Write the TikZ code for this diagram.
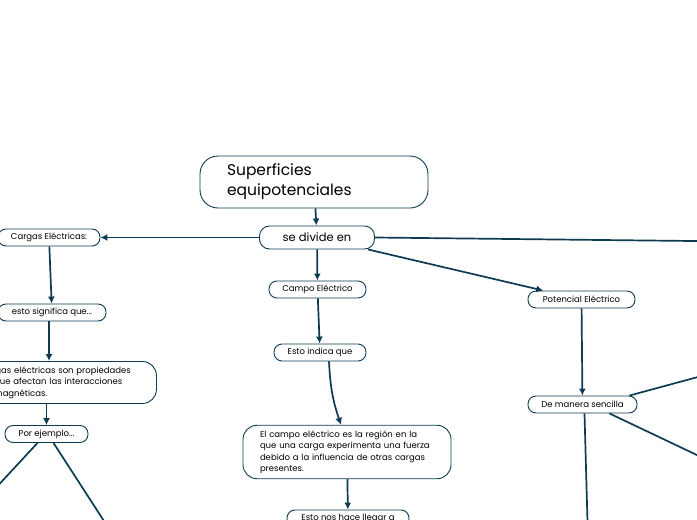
\documentclass[tikz,border=0pt]{standalone}
\usepackage{fontspec}
\setmainfont{Poppins}
\usetikzlibrary{arrows.meta}
\definecolor{mapline}{HTML}{0E3A52}
\newlength\hidw
\newlength\propw

\begin{document}
\settowidth\hidw{\fontsize{8.5}{11.5}\selectfont Las carg}
\setlength\propw{\dimexpr 139pt+\hidw\relax}
\begin{tikzpicture}[x=1pt,y=-1pt,
  pill/.style={draw=mapline, line width=0.9pt, rounded corners=8pt, fill=white,
    inner sep=0pt, minimum height=17pt, font=\fontsize{8.5}{10}\selectfont},
  textbox/.style={draw=mapline, line width=0.9pt, rounded corners=14pt, fill=white,
    inner xsep=17pt, inner ysep=5pt, align=left, font=\fontsize{8.5}{11.5}\selectfont},
  link/.style={draw=mapline, line width=1.7pt, -{Latex[length=7pt,width=7pt]}}]
\useasboundingbox (0,0) rectangle (697,520);
\clip (0,0) rectangle (697,520);
% main topic
\node [draw=mapline, line width=0.9pt, rounded corners=18pt, fill=white,
  minimum width=228pt, minimum height=52pt, inner xsep=27pt, text width=174pt,
  align=left, font=\fontsize{15.5}{20}\selectfont] (titulo) at (314,182)
  {Superficies\\equipotenciales};
\node [pill, minimum width=115pt, rounded corners=10pt, minimum height=23pt,
  font=\fontsize{11.5}{13}\selectfont] (divide) at (317,237.5) {se divide en};
% left branch
\node [pill, minimum width=102pt] (cargas) at (49,237.5) {Cargas Eléctricas:};
\node [pill, minimum width=108pt] (significa) at (52,312.5) {esto significa que...};
\node [textbox, text width=\propw, anchor=west, xshift={-\hidw-17pt}] (propiedades) at (0,382.5)
  {Las cargas eléctricas son propiedades\\físicas que afectan las interacciones\\electromagnéticas.};
\node [pill, minimum width=83pt] (ejemplo) at (46.5,434) {Por ejemplo...};
\coordinate (ej1) at (-20,505);
\coordinate (ej2) at (115,538);
% middle branch
\node [pill, minimum width=97pt] (campo) at (317.5,289.5) {Campo Eléctrico};
\node [pill, minimum width=92pt] (indica) at (320,352.5) {Esto indica que};
\node [textbox, text width=174pt] (region) at (347,452)
  {El campo eléctrico es la región en la\\que una carga experimenta una fuerza\\debido a la influencia de otras cargas\\presentes.};
\node [pill, minimum width=122pt] (llegar) at (348,518.5) {Esto nos hace llegar a};
% right branch
\node [pill, minimum width=107pt] (potencial) at (581.5,299.5) {Potencial Eléctrico};
\node [pill, minimum width=109pt] (sencilla) at (582.5,404.5) {De manera sencilla};
\coordinate (der) at (720,241.3);
\coordinate (sen1) at (720,371);
\coordinate (sen2) at (720,466);
\coordinate (sen3) at (588,540);
% connectors
\draw [link] (titulo) -- (divide);
\draw [link] (divide) -- (cargas);
\draw [link] (divide.east) -- (der);
\draw [link] (divide) -- (campo);
\draw [link] (divide) -- (potencial);
\draw [link] (cargas) -- (significa);
\draw [link] (significa.south -| cargas) -- (propiedades.north -| cargas);
\draw [link] (propiedades.south -| ejemplo) -- (ejemplo);
\draw [link] ([xshift=-9pt]ejemplo.south) -- (ej1);
\draw [link] ([xshift=7pt]ejemplo.south) -- (ej2);
\draw [link] (campo) -- (indica);
\draw [link] ([xshift=9pt]indica.south) to [bend right=8] ([xshift=-6pt]region.north);
\draw [link] (region) -- (llegar);
\draw [link] (potencial) -- (sencilla);
\draw [link] ([xshift=-8pt]sencilla.north east) -- (sen1);
\draw [link] ([xshift=-28pt]sencilla.south east) -- (sen2);
\draw [link] ([xshift=2pt]sencilla.south) -- (sen3);
\end{tikzpicture}
\end{document}
